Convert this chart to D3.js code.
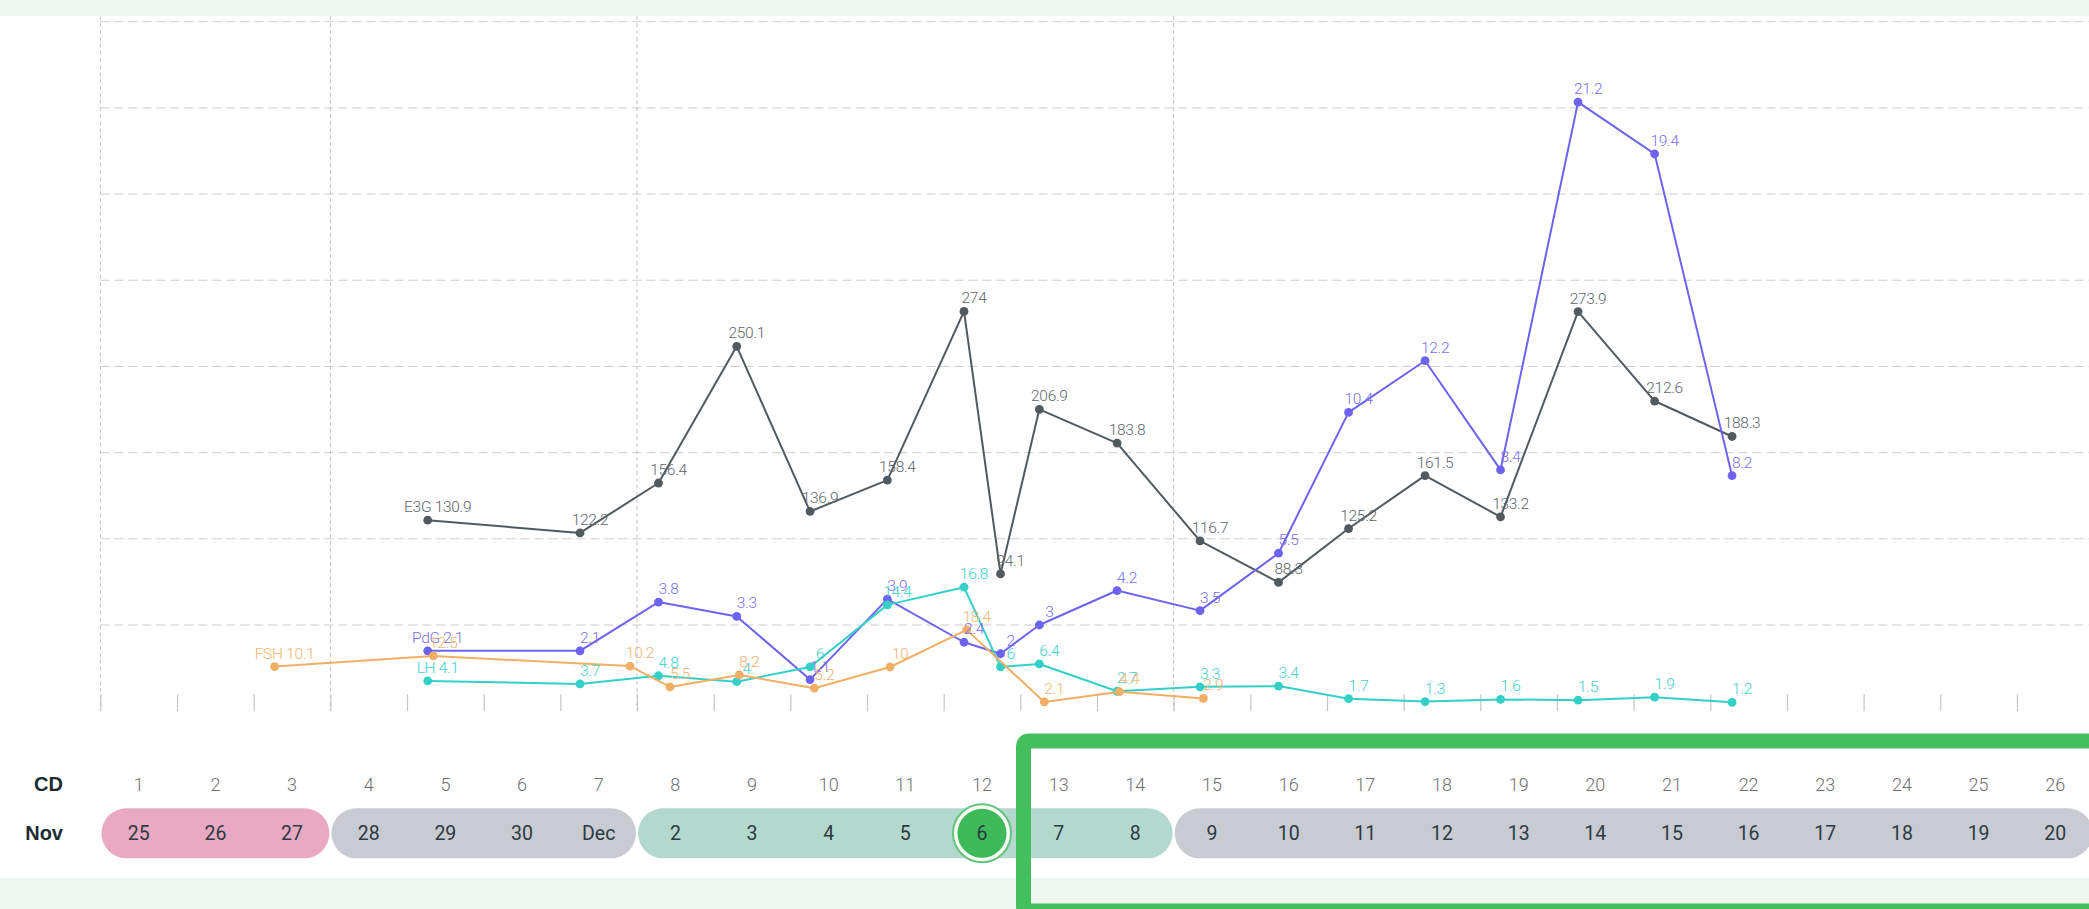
<!DOCTYPE html>
<html>
<head>
<meta charset="utf-8">
<script src="https://cdn.jsdelivr.net/npm/d3@7"></script>
<style>
  html, body { margin: 0; padding: 0; background: #eef6ef; }
  svg { display: block; }
</style>
</head>
<body>
<svg id="chart" width="2089" height="909"></svg>
<script>
// ---------------- DATA ----------------
const cycleStartDate = "2023-11-25";
const cycleDays = [1,2,3,4,5,6,7,8,9,10,11,12,13,14,15,16,17,18,19,20,21,22,23,24,25,26];
const calendarLabels = ["25","26","27","28","29","30","Dec","2","3","4","5","6","7","8","9","10","11","12","13","14","15","16","17","18","19","20"];
const rowLabels = ["CD", "Nov"];
const phaseNames = ["period", "low", "fertile", "post"];
const phaseStartDays = [1, 4, 8, 15];
const phaseEndDays = [3, 7, 14, 26];
const highlightDay = 12;

// test times shared by the E3G / PdG / LH readings
const testTimes = ["2023-11-29 06:28","2023-12-01 06:09","2023-12-02 06:43","2023-12-03 07:13","2023-12-04 06:10","2023-12-05 06:22","2023-12-06 06:22","2023-12-06 17:48","2023-12-07 05:57","2023-12-08 06:17","2023-12-09 08:15","2023-12-10 08:50","2023-12-11 06:45","2023-12-12 06:42","2023-12-13 06:20","2023-12-14 06:36","2023-12-15 06:34","2023-12-16 06:49"];
const e3gValues = [130.9,122.2,156.4,250.1,136.9,158.4,274,94.1,206.9,183.8,116.7,88.3,125.2,161.5,133.2,273.9,212.6,188.3];
const pdgValues = [2.1,2.1,3.8,3.3,1.1,3.9,2.4,2,3,4.2,3.5,5.5,10.4,12.2,8.4,21.2,19.4,8.2];
const lhValues  = [4.1,3.7,4.8,4,6,14.4,16.8,6,6.4,2.7,3.3,3.4,1.7,1.3,1.6,1.5,1.9,1.2];

const fshTimes  = ["2023-11-27 06:32","2023-11-29 08:14","2023-12-01 21:48","2023-12-02 10:19","2023-12-03 08:00","2023-12-04 07:30","2023-12-05 07:12","2023-12-06 07:12","2023-12-07 07:30","2023-12-08 07:00","2023-12-09 09:17"];
const fshValues = [10.1,12.5,10.2,5.5,8.2,5.2,10,18.4,2.1,4.4,2.9];

// axis maxima of the independent hormone scales
const seriesNames = ["E3G", "LH", "PdG", "FSH"];
const seriesMax = [472.6, 93.4, 24, 156];
const gridDivisions = 8;

// ---------------- STYLE ----------------
const styles = {
  E3G: { line: "#515a5f", label: "#5e666b" },
  LH:  { line: "#34d0c7", label: "#3dd2c9" },
  PdG: { line: "#6e63ee", label: "#7a6ff0" },
  FSH: { line: "#f1af66", label: "#f2b46f" }
};
const phaseFill = { period: "#eaa9c3", low: "#c8cbd1", fertile: "#b3d9cf", post: "#c8cbd1" };
const labelFont = "Roboto, 'Open Sans', sans-serif";

// ---------------- LAYOUT ----------------
const W = 2089, H = 909;
const plotTop = 21.7, plotBottom = 711.2;
const svg = d3.select("#chart");

const parseT = d3.timeParse("%Y-%m-%d %H:%M");
const day0 = d3.timeParse("%Y-%m-%d")(cycleStartDate);
const dayStart = d => d3.timeDay.offset(day0, d - 1);
const dayMid = d => d3.timeHour.offset(dayStart(d), 12);

const x = d3.scaleTime()
  .domain([day0, d3.timeDay.offset(day0, cycleDays.length)])
  .range([100.4, 2093.6]);

const y = {};
seriesNames.forEach((n, i) => {
  y[n] = d3.scaleLinear().domain([0, seriesMax[i]]).range([plotBottom, plotTop]);
});

// white card
svg.append("rect").attr("x", 0).attr("y", 16).attr("width", W).attr("height", 878 - 16).attr("fill", "#ffffff");

// horizontal dashed grid (PdG scale divisions)
const gridVals = d3.range(1, gridDivisions + 1).map(k => k * seriesMax[2] / gridDivisions);
svg.append("g").selectAll("line").data(gridVals).join("line")
  .attr("x1", x(day0)).attr("x2", W)
  .attr("y1", d => y.PdG(d)).attr("y2", d => y.PdG(d))
  .attr("stroke", "#cdcdcd").attr("stroke-width", 1).attr("stroke-dasharray", "9,5");

// vertical dashed lines at phase starts
svg.append("g").selectAll("line").data(phaseStartDays).join("line")
  .attr("x1", d => x(dayStart(d))).attr("x2", d => x(dayStart(d)))
  .attr("y1", 16).attr("y2", plotBottom)
  .attr("stroke", "#c4c4c4").attr("stroke-width", 1).attr("stroke-dasharray", "4,3");

// day ticks
const tickAxis = d3.axisTop(x).ticks(d3.timeDay.every(1)).tickSize(17).tickFormat("");
const tg = svg.append("g").attr("transform", `translate(0,${plotBottom})`).call(tickAxis);
tg.select(".domain").remove();
tg.selectAll(".tick line").attr("stroke", "#c6c6c6").attr("stroke-width", 1.2);

// ---------------- SERIES ----------------
const series = [
  { name: "E3G", times: testTimes, values: e3gValues },
  { name: "LH",  times: testTimes, values: lhValues },
  { name: "PdG", times: testTimes, values: pdgValues },
  { name: "FSH", times: fshTimes,  values: fshValues }
].map(s => ({ ...s, pts: s.values.map((v, i) => ({ t: parseT(s.times[i]), v, i })) }));

const drawOrder = ["E3G", "PdG", "LH", "FSH"];
const lineLayer = svg.append("g");
drawOrder.forEach(n => {
  const s = series.find(d => d.name === n);
  const g = lineLayer.append("g");
  const line = d3.line().x(d => x(d.t)).y(d => y[n](d.v));
  g.append("path").datum(s.pts).attr("d", line)
    .attr("fill", "none").attr("stroke", styles[n].line).attr("stroke-width", 2)
    .attr("stroke-linejoin", "round");
  g.selectAll("circle").data(s.pts).join("circle")
    .attr("cx", d => x(d.t)).attr("cy", d => y[n](d.v)).attr("r", 4.4)
    .attr("fill", styles[n].line);
});

const labelLayer = svg.append("g");
series.forEach(s => {
  labelLayer.append("g").selectAll("text").data(s.pts).join("text")
    .attr("x", d => x(d.t) + 10)
    .attr("y", d => y[s.name](d.v) - 8)
    .attr("text-anchor", "middle")
    .attr("font-family", labelFont)
    .attr("font-weight", 300)
    .attr("font-size", 15.5)
    .attr("letter-spacing", "-0.3px")
    .attr("fill", styles[s.name].label)
    .text(d => (d.i === 0 ? s.name + " " : "") + d.v);
});

// ---------------- DAY ROWS ----------------
const cdY = 784, navY = 833.3;
svg.append("g").selectAll("text").data(rowLabels).join("text")
  .attr("x", 63).attr("y", (d, i) => (i === 0 ? cdY : navY) + 7)
  .attr("text-anchor", "end")
  .attr("font-family", "'Liberation Sans', Arial, sans-serif")
  .attr("font-weight", "bold").attr("font-size", 20).attr("fill", "#1d2b33")
  .text(d => d);

svg.append("g").selectAll("text").data(cycleDays).join("text")
  .attr("x", d => x(dayMid(d))).attr("y", cdY + 6.5)
  .attr("text-anchor", "middle")
  .attr("font-family", "Roboto, sans-serif").attr("font-weight", 300)
  .attr("font-size", 18).attr("fill", "#6f6f6f")
  .text(d => d);

// phase pills
svg.append("g").selectAll("rect").data(phaseNames).join("rect")
  .attr("x", (d, i) => x(dayStart(phaseStartDays[i])) + 1)
  .attr("width", (d, i) => x(dayStart(phaseEndDays[i] + 1)) - x(dayStart(phaseStartDays[i])) - 2)
  .attr("y", navY - 25).attr("height", 50).attr("rx", 25)
  .attr("fill", d => phaseFill[d]);

// highlighted day
const hx = x(dayMid(highlightDay));
svg.append("circle").attr("cx", hx).attr("cy", navY).attr("r", 29).attr("fill", "#f7fbf3")
  .attr("stroke", "#62c47c").attr("stroke-width", 2);
svg.append("circle").attr("cx", hx).attr("cy", navY).attr("r", 24.5).attr("fill", "#3fba5b");

svg.append("g").selectAll("text").data(cycleDays).join("text")
  .attr("x", d => x(dayMid(d))).attr("y", navY + 7)
  .attr("text-anchor", "middle")
  .attr("font-family", "Roboto, sans-serif")
  .attr("font-size", 19.5).attr("fill", "#2e3a41")
  .text((d, i) => calendarLabels[i]);

// green selection frame
svg.append("rect")
  .attr("x", 1023.5).attr("y", 741).attr("width", W - 1023.5 + 40).attr("height", 170)
  .attr("rx", 5).attr("fill", "none")
  .attr("stroke", "#43bf5e").attr("stroke-width", 15);
</script>
</body>
</html>
